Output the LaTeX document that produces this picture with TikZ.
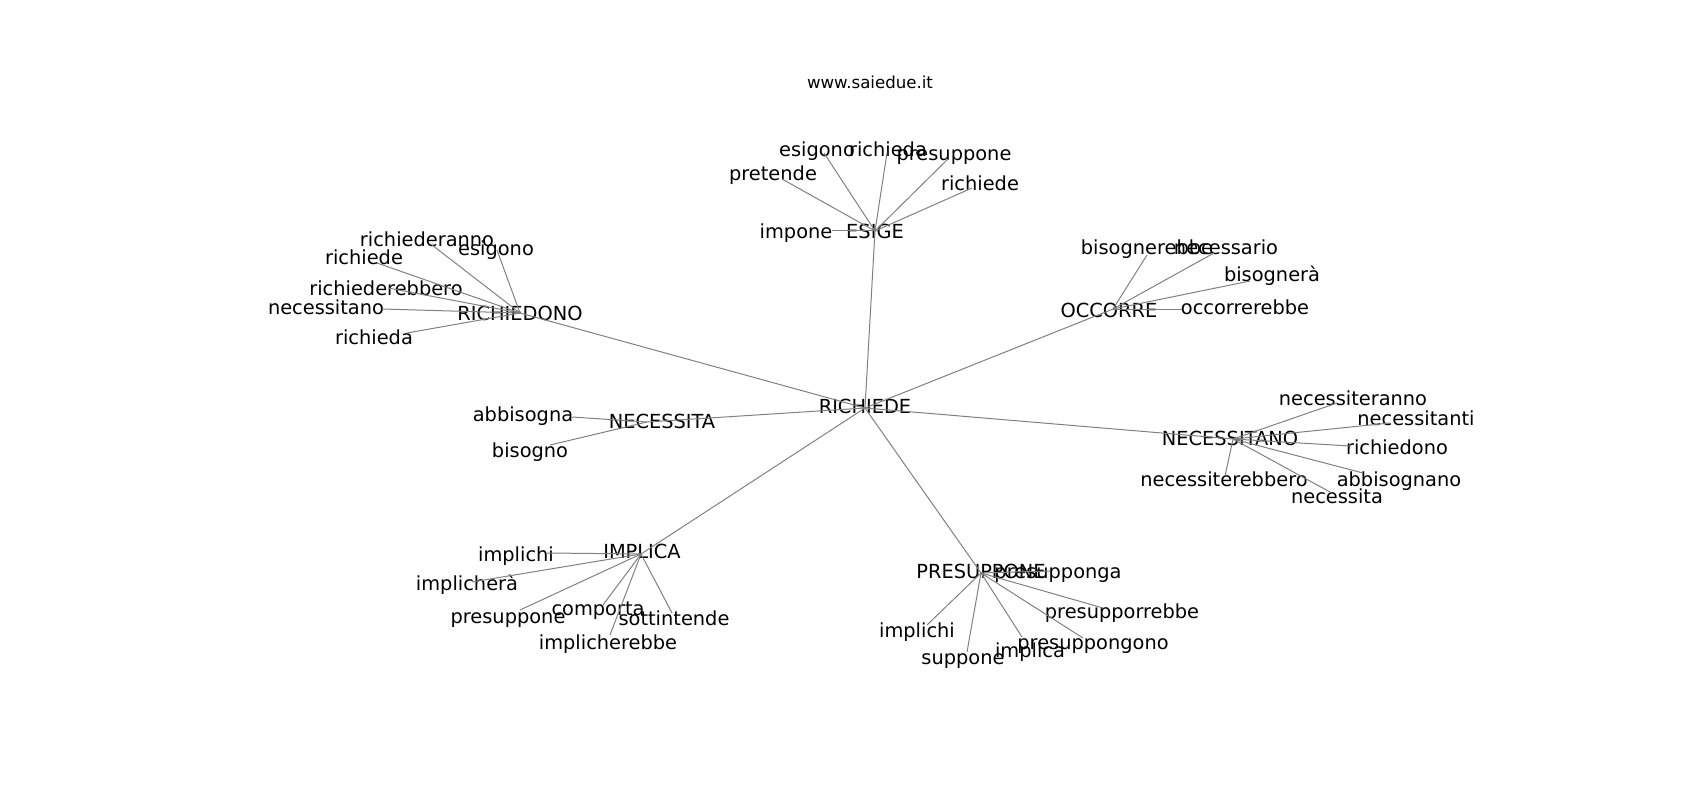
\documentclass[tikz,border=0pt]{standalone}
\usepackage{fontspec}
\setmainfont{DejaVu Sans}
\usepackage{tikz}
\definecolor{edgegray}{HTML}{808080}
\tikzset{word/.style={font=\fontsize{14}{17}\selectfont, inner sep=0pt, text height=1.05em, text depth=0pt}}
\tikzset{sitetitle/.style={font=\fontsize{12}{14}\selectfont, inner sep=0pt, text height=0.9em, text depth=0pt}}
\tikzset{link/.style={draw=edgegray, line width=0.72pt}}

\begin{document}
\begin{tikzpicture}[x=0.01in,y=-0.01in]
  \useasboundingbox (0,0) rectangle (1700,800);
  \node[sitetitle] (site) at (870,82) {www.saiedue.it};
  \foreach \x/\y/\px/\py/\name/\lab in {
    865/406/865/408/RICHIEDE/richiede,
    875/231/875/231/ESIGE/esige,
    520/313/520/313/RICHIEDONO/richiedono,
    1109/310/1113/309/OCCORRE/occorre,
    1230/438/1233/439/NECESSITANO/necessitano,
    662/421/647/422/NECESSITA/necessita,
    642/551/641/554/IMPLICA/implica,
    981/571/981/573/PRESUPPONE/presuppone,
    796/231/832/231/impone/es-impone,
    773/173/782/179/pretende/es-pretende,
    817/149/824/153/esigono/es-esigono,
    888/149/887/153/richieda/es-richieda,
    954/153/948/159/presuppone/es-presuppone,
    980/183/972/188/richiede/es-richiede,
    427/239/432/245/richiederanno/rd-richiederanno,
    496/248/497/250/esigono/rd-esigono,
    364/257/377/263/richiede/rd-richiede,
    386/288/388/288/richiederebbero/rd-richiederebbero,
    326/307/382/309/necessitano/rd-necessitano,
    374/337/407/333/richieda/rd-richieda,
    1147/247/1147/255/bisognerebbe/oc-bisognerebbe,
    1226/247/1214/253/necessario/oc-necessario,
    1272/274/1250/281/bisognerà/oc-bisognera,
    1245/307/1182/309/occorrerebbe/oc-occorrerebbe,
    1353/398/1337/403/necessiteranno/nt-necessiteranno,
    1416/418/1390/423/necessitanti/nt-necessitanti,
    1397/447/1350/446/richiedono/nt-richiedono,
    1399/479/1363/473/abbisognano/nt-abbisognano,
    1224/479/1225/476/necessiterebbero/nt-necessiterebbero,
    1337/496/1330/492/necessita/nt-necessita,
    523/414/572/417/abbisogna/ns-abbisogna,
    530/450/550/445/bisogno/ns-bisogno,
    516/554/547/553/implichi/im-implichi,
    467/583/472/582/implicherà/im-implichera,
    508/616/520/610/presuppone/im-presuppone,
    598/608/603/605/comporta/im-comporta,
    674/618/672/613/sottintende/im-sottintende,
    608/642/610/635/implicherebbe/im-implicherebbe,
    1058/571/1050/571/presupponga/pr-presupponga,
    1122/611/1103/608/presupporrebbe/pr-presupporrebbe,
    1093/642/1083/638/presuppongono/pr-presuppongono,
    1030/650/1022/637/implica/pr-implica,
    963/657/967/652/suppone/pr-suppone,
    917/630/927/625/implichi/pr-implichi%
  } {
    \coordinate (\lab) at (\px,\py);
    \node[word] (t-\lab) at (\x,\y) {\name};
  }
  \foreach \u/\v in {
    richiede/esige, richiede/richiedono, richiede/occorre,
    richiede/necessitano, richiede/necessita, richiede/implica,
    richiede/presuppone,
    esige/es-impone, esige/es-pretende, esige/es-esigono,
    esige/es-richieda, esige/es-presuppone, esige/es-richiede,
    richiedono/rd-richiederanno, richiedono/rd-esigono,
    richiedono/rd-richiede, richiedono/rd-richiederebbero,
    richiedono/rd-necessitano, richiedono/rd-richieda,
    occorre/oc-bisognerebbe, occorre/oc-necessario,
    occorre/oc-bisognera, occorre/oc-occorrerebbe,
    necessitano/nt-necessiteranno, necessitano/nt-necessitanti,
    necessitano/nt-richiedono, necessitano/nt-abbisognano,
    necessitano/nt-necessiterebbero, necessitano/nt-necessita,
    necessita/ns-abbisogna, necessita/ns-bisogno,
    implica/im-implichi, implica/im-implichera, implica/im-presuppone,
    implica/im-comporta, implica/im-sottintende, implica/im-implicherebbe,
    presuppone/pr-presupponga, presuppone/pr-presupporrebbe,
    presuppone/pr-presuppongono, presuppone/pr-implica,
    presuppone/pr-suppone, presuppone/pr-implichi%
  }{
    \draw[link] (\u) -- (\v);
  }
\end{tikzpicture}
\end{document}
